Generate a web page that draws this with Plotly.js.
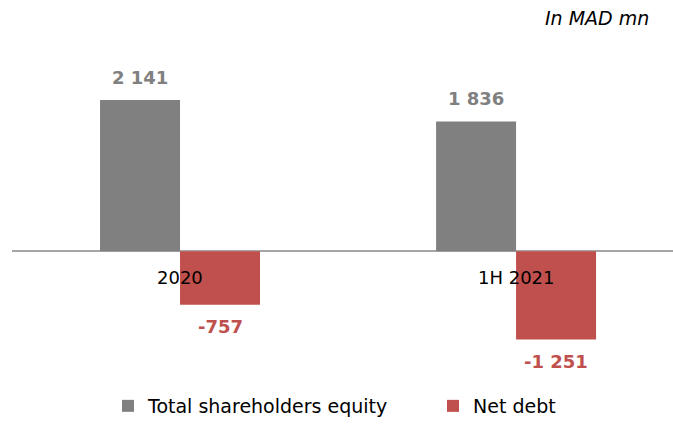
<!DOCTYPE html>
<html>
<head>
<meta charset="utf-8">
<script src="https://cdn.plot.ly/plotly-3.0.1.min.js"></script>
<style>html,body{margin:0;padding:0;background:#fff;}#chart{width:673px;height:425px;}</style>
</head>
<body>
<div id="chart"></div>
<script>
const categories = ['2020', '1H 2021'];
const equity = [2141, 1836];
const netDebt = [-757, -1251];
const seriesNames = ['Total shareholders equity', 'Net debt'];
const unitLabel = 'In MAD mn';

const GRAY = '#808080', RED = '#C0504D';
const FONT = 'DejaVu Sans, Verdana, sans-serif';

function fmt(v) {
  const s = Math.abs(v).toString().replace(/\B(?=(\d{3})+(?!\d))/g, ' ');
  return (v < 0 ? '-' : '') + s;
}

const traces = [
  {type: 'bar', name: seriesNames[0], x: categories, y: equity, marker: {color: GRAY}, hoverinfo: 'none', legend: 'legend'},
  {type: 'bar', name: seriesNames[1], x: categories, y: netDebt, marker: {color: RED}, hoverinfo: 'none', legend: 'legend2'}
];

const W = 661, L = 12, T = 30, B = 65;
const H = 425 - T - B;
const annotations = [];
categories.forEach((c, i) => {
  annotations.push({x: i, y: equity[i], xref: 'x', yref: 'y', text: '<b>' + fmt(equity[i]) + '</b>', showarrow: false,
    xshift: -40, yshift: 23, font: {family: FONT, size: 18, color: GRAY}});
  annotations.push({x: i, y: netDebt[i], xref: 'x', yref: 'y', text: '<b>' + fmt(netDebt[i]) + '</b>', showarrow: false,
    xshift: 40, yshift: -22, font: {family: FONT, size: 18, color: RED}});
  annotations.push({x: i, y: 0, xref: 'x', yref: 'y', text: c, showarrow: false,
    yshift: -26, font: {family: FONT, size: 18, color: '#000'}});
});
annotations.push({
  x: (651 - L) / W, xref: 'paper', xanchor: 'right', y: 1 + (T - 18) / H, yref: 'paper', yanchor: 'middle',
  text: '<i>' + unitLabel + '</i>', showarrow: false, font: {family: FONT, size: 19, color: '#000'}
});

const legFont = {family: FONT, size: 19, color: '#000'};
const legY = -(411 - (425 - B)) / H;
const layout = {
  width: 673, height: 425,
  margin: {l: L, r: 0, t: T, b: B},
  paper_bgcolor: '#fff', plot_bgcolor: '#fff',
  barmode: 'group', bargap: 0.524, bargroupgap: 0,
  font: {family: FONT, size: 18, color: '#000'},
  xaxis: {type: 'category', range: [-0.5, 1.467], showticklabels: false, showgrid: false, zeroline: false, showline: false, ticks: ''},
  yaxis: {range: [-1483, 3133], showticklabels: false, showgrid: false, zeroline: true, zerolinecolor: '#a6a6a6', zerolinewidth: 2, showline: false, ticks: ''},
  showlegend: true,
  legend: {orientation: 'h', x: (108 - L) / W, xanchor: 'left', y: legY, yanchor: 'middle', font: legFont, bgcolor: 'rgba(0,0,0,0)'},
  legend2: {orientation: 'h', x: (433 - L) / W, xanchor: 'left', y: legY, yanchor: 'middle', font: legFont, bgcolor: 'rgba(0,0,0,0)'},
  annotations: annotations
};

Plotly.newPlot('chart', traces, layout, {staticPlot: true, displayModeBar: false});
</script>
</body>
</html>
